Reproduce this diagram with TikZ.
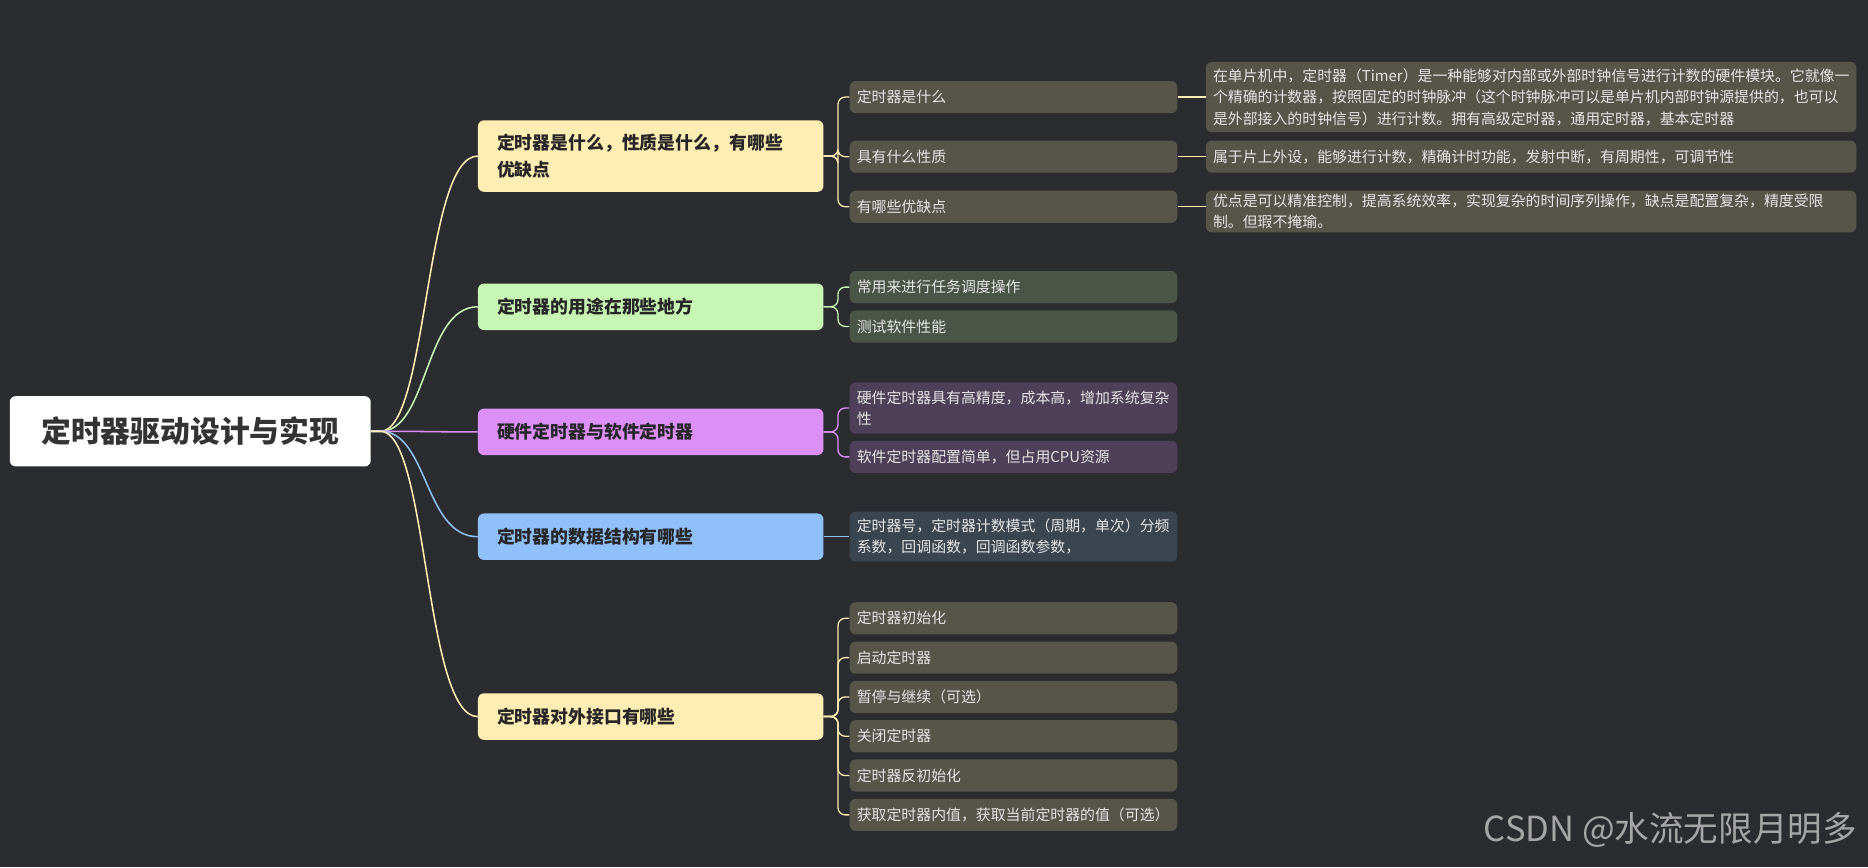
\documentclass[tikz,border=0pt]{standalone}
\usepackage{fontspec}
\setmainfont{Noto Sans CJK SC}
\begin{document}
\begin{tikzpicture}[x=1pt,y=-1pt,
  base/.style={anchor=west,rounded corners=5pt,align=left,inner xsep=6pt,inner ysep=0pt},
  lone/.style={base,font=\fontsize{15}{22}\selectfont\bfseries,text=black!85,minimum width=290pt,text width=258pt,minimum height=39pt,inner xsep=16pt},
  ltwo/.style={base,font=\fontsize{12.5}{18}\selectfont,text=white!90!black,minimum width=275pt,text width=263pt,minimum height=27pt},
  lthree/.style={base,font=\fontsize{12.5}{18}\selectfont,text=white!90!black,minimum width=546pt,text width=534pt,minimum height=27pt},
  rootedge/.style={line width=1.3pt},
  sub/.style={line width=1.1pt,rounded corners=6pt}]
\definecolor{bg}{HTML}{2B2C30}
\definecolor{yel}{HTML}{FFEDB3}
\definecolor{grn}{HTML}{C8F7B5}
\definecolor{pur}{HTML}{DC8FF8}
\definecolor{blu}{HTML}{8FC0FA}
\definecolor{dyel}{HTML}{57544A}
\definecolor{dgrn}{HTML}{4A5548}
\definecolor{dpur}{HTML}{4E4058}
\definecolor{dblu}{HTML}{3B4550}
\fill[bg] (0,0) rectangle (1568,728);
\useasboundingbox (0,0) rectangle (1568,728);

\node[base,fill=white,minimum width=303pt,minimum height=59pt,align=center,text width=290pt,font=\fontsize{25}{30}\selectfont\bfseries,text=black!80] (root) at (8,362) {定时器驱动设计与实现};

\node[lone,fill=yel,minimum height=60pt] (a) at (401,131) {定时器是什么，性质是什么，有哪些\\优缺点};
\node[lone,fill=grn] (b) at (401,257.5) {定时器的用途在那些地方};
\node[lone,fill=pur] (c) at (401,362.5) {硬件定时器与软件定时器};
\node[lone,fill=blu] (d) at (401,450.5) {定时器的数据结构有哪些};
\node[lone,fill=yel] (e) at (401,601.5) {定时器对外接口有哪些};

\foreach \n/\c in {a/yel,b/grn,c/pur,d/blu,e/yel}
  \draw[rootedge,\c] (root.east) -- ++(8,0) .. controls +(40,0) and +(-45,0) .. (\n.west);

\node[ltwo,fill=dyel] (a1) at (713,81.5) {定时器是什么};
\node[ltwo,fill=dyel] (a2) at (713,131.5) {具有什么性质};
\node[ltwo,fill=dyel] (a3) at (713,173.5) {有哪些优缺点};
\node[ltwo,fill=dgrn] (b1) at (713,241) {常用来进行任务调度操作};
\node[ltwo,fill=dgrn] (b2) at (713,274) {测试软件性能};
\node[ltwo,fill=dpur,minimum height=43pt] (c1) at (713,342.5) {硬件定时器具有高精度，成本高，增加系统复杂\\性};
\node[ltwo,fill=dpur] (c2) at (713,383.5) {软件定时器配置简单，但占用CPU资源};
\node[ltwo,fill=dblu,minimum height=42pt] (d1) at (713,450.5) {定时器号，定时器计数模式（周期，单次）分频\\系数，回调函数，回调函数参数，};
\node[ltwo,fill=dyel] (e1) at (713,519) {定时器初始化};
\node[ltwo,fill=dyel] (e2) at (713,552) {启动定时器};
\node[ltwo,fill=dyel] (e3) at (713,585) {暂停与继续（可选）};
\node[ltwo,fill=dyel] (e4) at (713,618) {关闭定时器};
\node[ltwo,fill=dyel] (e5) at (713,651) {定时器反初始化};
\node[ltwo,fill=dyel] (e6) at (713,684) {获取定时器内值，获取当前定时器的值（可选）};

\foreach \p/\c/\l in {a/yel/{a1,a2,a3},b/grn/{b1,b2},c/pur/{c1,c2},e/yel/{e1,e2,e3,e4,e5,e6}}
  \foreach \k in \l
    \draw[sub,\c] (\p.east) -- ++(12,0) |- (\k.west);
\draw[sub,blu] (d.east) -- (d1.west);

\node[lthree,fill=dyel,minimum height=59pt] (a1x) at (1012,81.5) {在单片机中，定时器（Timer）是一种能够对内部或外部时钟信号进行计数的硬件模块。它就像一\\个精确的计数器，按照固定的时钟脉冲（这个时钟脉冲可以是单片机内部时钟源提供的，也可以\\是外部接入的时钟信号）进行计数。拥有高级定时器，通用定时器，基本定时器};
\node[lthree,fill=dyel] (a2x) at (1012,131.5) {属于片上外设，能够进行计数，精确计时功能，发射中断，有周期性，可调节性};
\node[lthree,fill=dyel,minimum height=35pt] (a3x) at (1012,177.5) {优点是可以精准控制，提高系统效率，实现复杂的时间序列操作，缺点是配置复杂，精度受限\\制。但瑕不掩瑜。};
\draw[sub,yel] (a1.east) -- (a1x.west);
\draw[sub,yel] (a2.east) -- (a2x.west);
\draw[sub,yel] (a3.east) -- (a3.east -| a3x.west);

\node[anchor=east,font=\fontsize{29}{34}\selectfont,text=white!65!black] (wm) at (1562,697) {CSDN @水流无限月明多};
\end{tikzpicture}
\end{document}
